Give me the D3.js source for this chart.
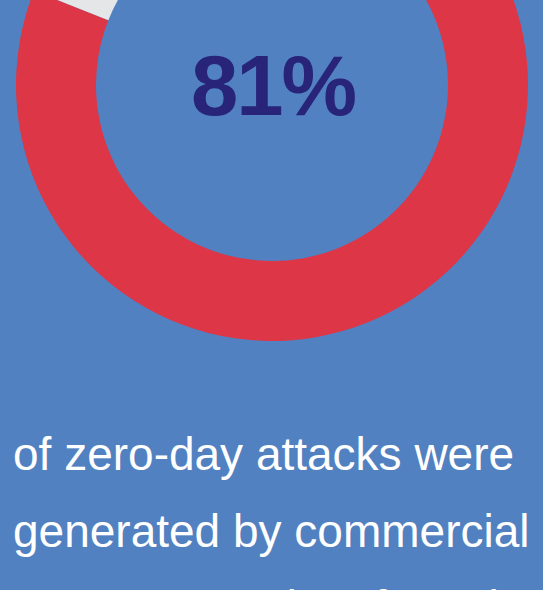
<!DOCTYPE html>
<html>
<head>
<meta charset="utf-8">
<script src="https://cdn.jsdelivr.net/npm/d3@7"></script>
<style>
  html, body { margin: 0; padding: 0; background: #5281c1; overflow: hidden; }
  svg { display: block; }
</style>
</head>
<body>
<script>
// Share of zero-day attacks by origin
const categories = ["Commercial spyware vendors", "Other"];
const values = [81, 19];
const sliceColors = ["#dc3647", "#e5e6e8"];

// Caption under the ring
const captionLines = [
  "of zero-day attacks were",
  "generated by commercial",
  "spyware vendors for sale"
];

const width = 543, height = 590;
const cx = 272, cy = 85;
const outerR = 256, innerR = 176;

const svg = d3.select("body").append("svg")
  .attr("width", width)
  .attr("height", height);

svg.append("rect")
  .attr("width", width)
  .attr("height", height)
  .attr("fill", "#5281c1");

const pie = d3.pie().sort(null).value(d => d);
const arc = d3.arc().innerRadius(innerR).outerRadius(outerR);

const color = d3.scaleOrdinal().domain(categories).range(sliceColors);

const ring = svg.append("g").attr("transform", `translate(${cx},${cy})`);
ring.selectAll("path")
  .data(pie(values))
  .join("path")
  .attr("d", arc)
  .attr("fill", (d, i) => color(categories[i]));

// Headline percentage in the hole
ring.append("text")
  .attr("x", 1)
  .attr("y", 30)
  .attr("text-anchor", "middle")
  .attr("font-family", "'Liberation Sans', Arial, Helvetica, sans-serif")
  .attr("font-weight", "bold")
  .attr("font-size", 85)
  .attr("letter-spacing", "-2px")
  .attr("fill", "#27247a")
  .text(`${values[0]}%`);

// Caption
svg.append("g")
  .selectAll("text")
  .data(captionLines)
  .join("text")
  .attr("x", 13)
  .attr("y", (d, i) => 470 + i * 76.5)
  .attr("font-family", "'Liberation Sans', Arial, Helvetica, sans-serif")
  .attr("font-size", 46)
  .attr("fill", "#ffffff")
  .text(d => d);
</script>
</body>
</html>
